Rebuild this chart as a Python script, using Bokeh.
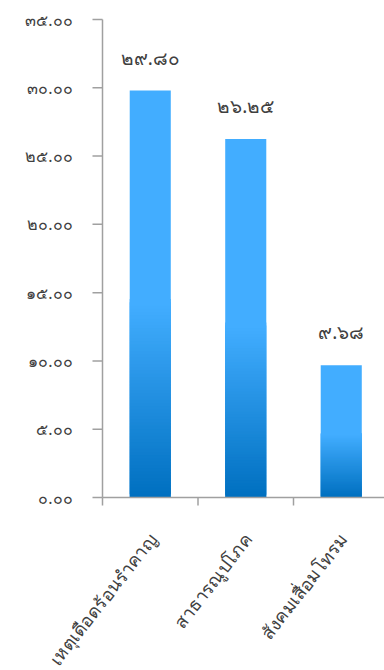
from math import radians

from bokeh.core.properties import value
from bokeh.embed import file_html
from bokeh.models import ColumnDataSource, Range1d
from bokeh.plotting import figure
from bokeh.resources import INLINE

# Data
categories = ["เหตุเดือดร้อนรำคาญ", "สาธารณูปโภค", "สังคมเสื่อมโทรม"]
values = [29.80, 26.25, 9.68]
y_ticks = [0, 5, 10, 15, 20, 25, 30, 35]

THAI_DIGITS = str.maketrans("0123456789", "๐๑๒๓๔๕๖๗๘๙")


def thai(num):
    return f"{num:.2f}".translate(THAI_DIGITS)


# Layout: the drawing area fills the whole page so that the slanted
# category names may run past the value axis.
W, H = 384, 670
AXIS_X, AXIS_Y, TOP_Y = 102, 497, 19        # pixel positions of the axes
PX_X = 95.5                                 # pixels per category
PX_Y = (AXIS_Y - TOP_Y) / max(y_ticks)      # pixels per unit of value

FONT = "Noto Sans"
TEXT_COLOR = "#404040"
AXIS_COLOR = "#a0a0a0"
AXIS_WIDTH = 1.5
LIGHT = (66, 173, 255)
DARK = (0, 112, 192)
BAR_WIDTH = 0.43
GRADIENT_PART = 0.48   # lower share of each bar that fades into the dark blue
STEPS = 60

centers = [i + 0.5 for i in range(len(categories))]
boundaries = list(range(len(categories) + 1))

# Each bar: a solid light block, then gradient bands painted over its lower part.
# Each band overlaps the next one, so later bands hide the earlier band edges.
left, right, bottom, top, color = [], [], [], [], []
for c, v in zip(centers, values):
    g = v * GRADIENT_PART
    left.append(c - BAR_WIDTH / 2)
    right.append(c + BAR_WIDTH / 2)
    bottom.append(0)
    top.append(v)
    color.append("#%02x%02x%02x" % LIGHT)
    for k in range(STEPS):
        t = k / (STEPS - 1)
        rgb = tuple(round(DARK[j] + (LIGHT[j] - DARK[j]) * t) for j in range(3))
        left.append(c - BAR_WIDTH / 2)
        right.append(c + BAR_WIDTH / 2)
        bottom.append(g * k / STEPS)
        top.append(min(g * (k + 2) / STEPS, v))
        color.append("#%02x%02x%02x" % rgb)

bars = ColumnDataSource(dict(left=left, right=right, bottom=bottom, top=top, color=color))
value_labels = ColumnDataSource(dict(x=centers, y=values, text=[thai(v) for v in values]))
cat_labels = ColumnDataSource(dict(x=centers, y=[0] * len(centers), text=categories))
y_tick_src = ColumnDataSource(dict(
    x=[0] * len(y_ticks), y=y_ticks, text=[thai(t) for t in y_ticks],
    x1=[-10 / PX_X] * len(y_ticks),
))
x_tick_src = ColumnDataSource(dict(
    x=boundaries, y0=[0] * len(boundaries), y1=[-8 / PX_Y] * len(boundaries),
))

x_end = (W - AXIS_X) / PX_X
p = figure(
    width=W, height=H,
    x_range=Range1d(-AXIS_X / PX_X, x_end),
    y_range=Range1d(-(H - AXIS_Y) / PX_Y, AXIS_Y / PX_Y),
    x_axis_location=None, y_axis_location=None,
    output_backend="svg", toolbar_location=None,
    min_border=0,
)
p.outline_line_color = None
p.grid.grid_line_color = None
p.background_fill_color = "white"
p.border_fill_color = "white"

p.quad(left="left", right="right", bottom="bottom", top="top", fill_color="color",
       line_color=None, source=bars)

# Value axis: line, ticks and Thai-numeral labels
p.segment(x0=0, y0=0, x1=0, y1=max(y_ticks), line_color=AXIS_COLOR, line_width=AXIS_WIDTH)
p.segment(x0="x", y0="y", x1="x1", y1="y", source=y_tick_src,
          line_color=AXIS_COLOR, line_width=AXIS_WIDTH)
p.text(x="x", y="y", text="text", source=y_tick_src, x_offset=-30,
       text_align="right", text_baseline="middle",
       text_font=value(FONT), text_font_size="16px", text_color=TEXT_COLOR)

# Category axis: line and tick marks on category boundaries
p.segment(x0=0, y0=0, x1=x_end, y1=0, line_color=AXIS_COLOR, line_width=AXIS_WIDTH)
p.segment(x0="x", y0="y0", x1="x", y1="y1", source=x_tick_src,
          line_color=AXIS_COLOR, line_width=AXIS_WIDTH)

# Category names, slanted and ending just below each category centre
p.text(x="x", y="y", text="text", source=cat_labels,
       x_offset=2, y_offset=38, angle=radians(52),
       text_align="right", text_baseline="middle",
       text_font=value(FONT), text_font_size="18px", text_color=TEXT_COLOR)

# Value labels above the bars
p.text(x="x", y="y", text="text", source=value_labels, y_offset=-33,
       text_align="center", text_baseline="middle",
       text_font=value(FONT), text_font_size="19px", text_color=TEXT_COLOR)

open("out.html", "w").write(file_html(p, INLINE))
